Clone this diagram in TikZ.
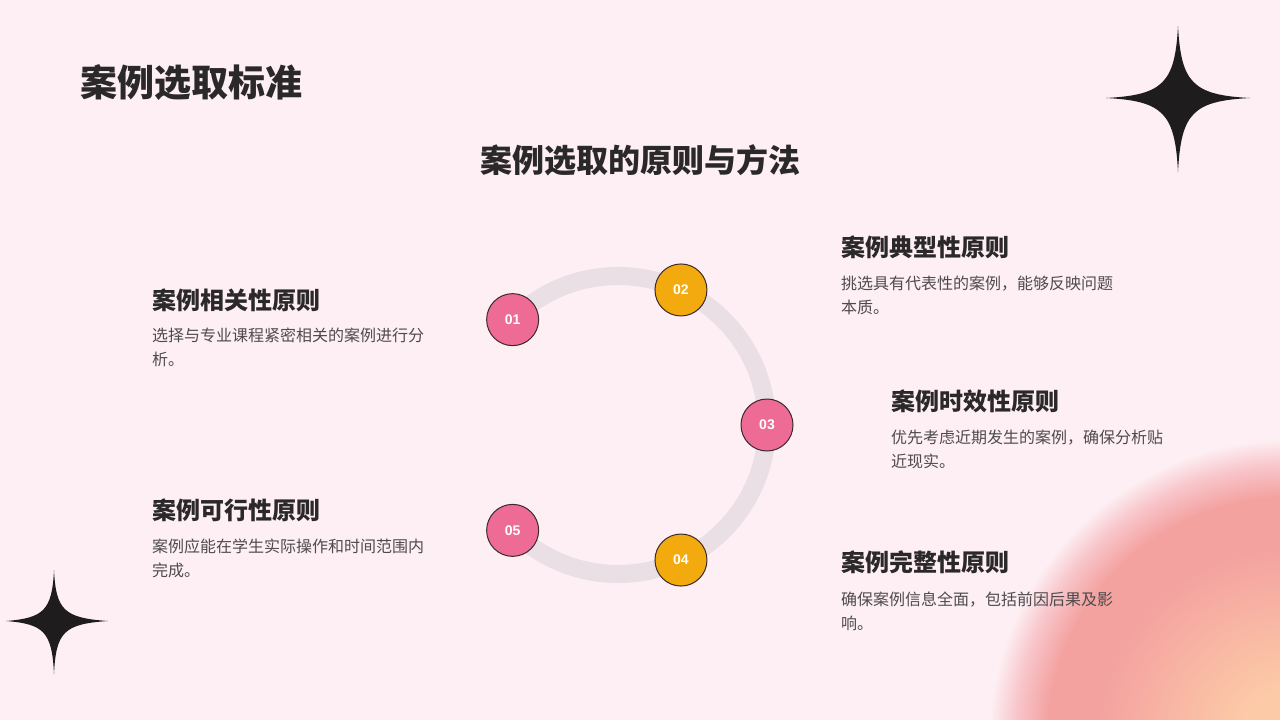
\documentclass[tikz,border=0pt]{standalone}
\usepackage{fontspec}
\newfontfamily\cjk{Noto Sans CJK SC}
\newfontfamily\numfont{Liberation Sans}
\definecolor{bg}{HTML}{FDEFF3}
\definecolor{ink}{HTML}{2B2829}
\definecolor{bodyc}{HTML}{4F4B4D}
\definecolor{ringc}{HTML}{E9DFE4}
\definecolor{pinkc}{HTML}{EE6B96}
\definecolor{yellowc}{HTML}{F3AA0E}
\definecolor{edgec}{HTML}{3A2A2E}
\definecolor{starc}{HTML}{1E1C1D}
\definecolor{peach}{HTML}{FCCAA7}
\definecolor{salmon}{HTML}{F4A2A0}
\definecolor{salmonlt}{HTML}{F8C6CB}
\pgfdeclareradialshading{blobshade}{\pgfpoint{0bp}{0bp}}{color(0bp)=(peach); color(4bp)=(peach); color(15bp)=(salmon); color(19bp)=(salmon); color(21.5bp)=(salmonlt); color(23.5bp)=(bg); color(25bp)=(bg); color(50bp)=(bg)}
\tikzset{
  titletxt/.style={anchor=base west, inner sep=0pt, text=ink, font=\cjk\bfseries\fontsize{37}{40}\selectfont},
  subtxt/.style={anchor=base, inner sep=0pt, text=ink, font=\cjk\bfseries\fontsize{32}{36}\selectfont},
  headtxt/.style={anchor=base west, inner sep=0pt, text=ink, font=\cjk\bfseries\fontsize{24}{28}\selectfont},
  bodytxt/.style={anchor=base west, inner sep=0pt, text=bodyc, align=left, font=\cjk\fontsize{16}{24}\selectfont},
  ring/.style={draw=ringc, line width=18pt},
  num/.style={circle, minimum size=52pt, inner sep=0pt, draw=edgec, line width=1pt, text=white, font=\numfont\bfseries\fontsize{14}{16}\selectfont},
  starshape/.style={fill=starc}
}
\begin{document}
\begin{tikzpicture}[x=1pt,y=-1pt]
\useasboundingbox (0,0) rectangle (1280,720);
\fill[bg] (0,0) rectangle (1280,720);
\begin{scope}
\clip (0,0) rectangle (1280,720);
\shade[shading=blobshade] (1290,740) circle[radius=320pt];
\end{scope}
% stars
\fill[starshape] (1178,26) .. controls (1181,83) and (1193,95) .. (1250,98)
  .. controls (1193,101) and (1181,113) .. (1178,172)
  .. controls (1175,113) and (1163,101) .. (1106,98)
  .. controls (1163,95) and (1175,83) .. cycle;
\fill[starshape] (54,570) .. controls (56,610) and (64,618) .. (108,621)
  .. controls (64,624) and (56,632) .. (54,674)
  .. controls (52,632) and (44,624) .. (6,621)
  .. controls (44,618) and (52,610) .. cycle;
% titles
\node[titletxt] (title) at (80,96) {案例选取标准};
\node[subtxt] (subtitle) at (640,172) {案例选取的原则与方法};
% ring
\coordinate (c) at (618,425);
\draw[ring] (c) ++(-135:149pt) arc[start angle=-135, end angle=135, radius=149pt];
\path (c) ++(135:149pt) node[num, fill=pinkc] (n1) {01};
\path (c) ++(65:149pt) node[num, fill=yellowc] (n2) {02};
\path (c) ++(0:149pt) node[num, fill=pinkc] (n3) {03};
\path (c) ++(-65:149pt) node[num, fill=yellowc] (n4) {04};
\path (c) ++(-135:149pt) node[num, fill=pinkc] (n5) {05};
% texts (body nodes anchored at the baseline of their second line)
\node[headtxt] (h1) at (152,309) {案例相关性原则};
\node[bodytxt] (b1) at (152,365) {选择与专业课程紧密相关的案例进行分\\析。};
\node[headtxt] (h2) at (841,256) {案例典型性原则};
\node[bodytxt] (b2) at (841,313) {挑选具有代表性的案例，能够反映问题\\本质。};
\node[headtxt] (h3) at (891,410) {案例时效性原则};
\node[bodytxt] (b3) at (891,467) {优先考虑近期发生的案例，确保分析贴\\近现实。};
\node[headtxt] (h4) at (841,571) {案例完整性原则};
\node[bodytxt] (b4) at (841,629) {确保案例信息全面，包括前因后果及影\\响。};
\node[headtxt] (h5) at (152,519) {案例可行性原则};
\node[bodytxt] (b5) at (152,576) {案例应能在学生实际操作和时间范围内\\完成。};
\end{tikzpicture}
\end{document}
